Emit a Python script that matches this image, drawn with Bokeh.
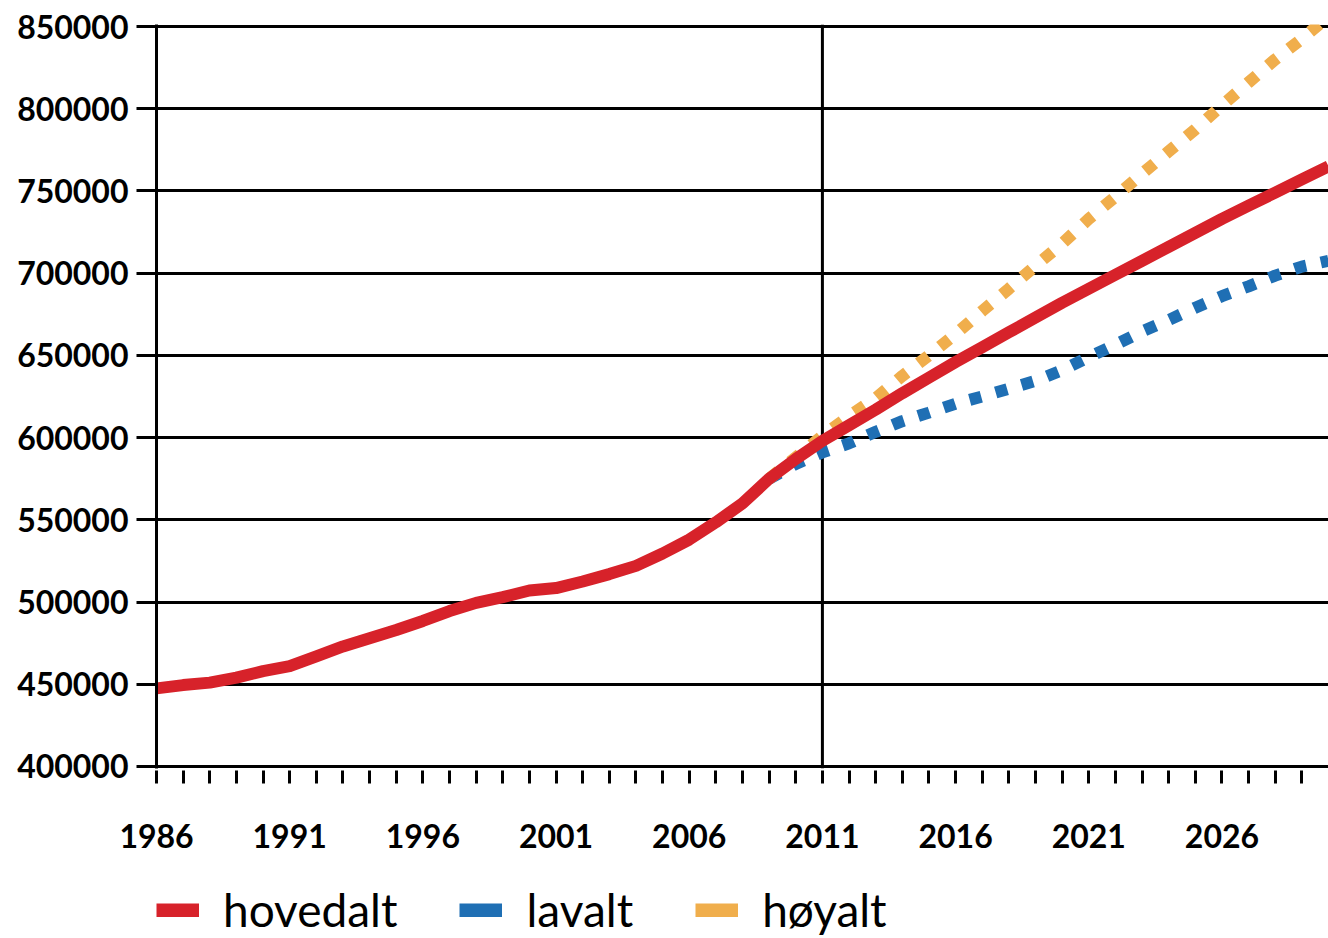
from bokeh.plotting import figure
from bokeh.models import FixedTicker, Span, Legend, LegendItem, Range1d
from bokeh.layouts import column
from bokeh.embed import file_html
from bokeh.resources import INLINE

# ---- data ----
years_main = list(range(1986, 2031))
hovedalt = [447500, 449500, 451000, 454000, 458000, 461000, 467000, 473000, 478000, 483000,
            488500, 494500, 499500, 503000, 507000, 508500, 512500, 517000, 522000, 529500,
            538000, 548500, 560000, 575000, 587000, 598000, 607500, 617000, 627000, 636500,
            646000, 655000, 664000, 673000, 682000, 690500, 699000, 707500, 716000, 724500,
            733000, 741000, 749000, 757000, 765000]

years_alt = list(range(2009, 2031))
lavalt = [575000, 584000, 591000, 596500, 603500, 610000, 615200, 620600, 625000, 629700,
          634500, 641000, 649000, 656500, 664500, 671500, 679000, 686000, 692000, 698500,
          704000, 707500]
hoyalt = [575000, 588000, 601000, 613000, 624000, 637500, 650000, 663000, 677000, 690500,
          704500, 718000, 733000, 746500, 760500, 774000, 787500, 802000, 816000, 830000,
          842500, 856000]

series_names = ["hovedalt", "lavalt", "høyalt"]
series_colors = ["#d7222a", "#1f6fb4", "#f0ae4c"]

y_ticks = [400000, 450000, 500000, 550000, 600000, 650000, 700000, 750000, 800000, 850000]
x_ticks = list(range(1986, 2030))
x_labelled = [1986, 1991, 1996, 2001, 2006, 2011, 2016, 2021, 2026]
divider_year = 2011

# ---- main figure ----
pad = 1217
p = figure(width=1328, height=870,
           x_range=Range1d(1986, 2030),
           y_range=Range1d(y_ticks[0] - pad, y_ticks[-1] + pad),
           output_backend="svg", toolbar_location=None,
           min_border_left=156, min_border_right=0, min_border_top=24, min_border_bottom=102)
p.outline_line_color = None
p.background_fill_color = "white"
p.border_fill_color = "white"

p.xgrid.visible = False
p.ygrid.ticker = FixedTicker(ticks=y_ticks)
p.ygrid.grid_line_color = "black"
p.ygrid.grid_line_width = 3

# y axis
ya = p.yaxis[0]
ya.ticker = FixedTicker(ticks=y_ticks)
ya.major_label_overrides = {v: str(v) for v in y_ticks}
ya.axis_line_width = 3
ya.axis_line_color = "black"
ya.major_tick_in = 0
ya.major_tick_out = 20
ya.major_tick_line_width = 3
ya.major_tick_line_color = "black"
ya.minor_tick_line_color = None
ya.major_label_standoff = 8
ya.major_label_text_font = "Lato"
ya.major_label_text_font_size = "32px"
ya.major_label_text_font_style = "bold"
ya.major_label_text_color = "black"

# x axis
xa = p.xaxis[0]
xa.ticker = FixedTicker(ticks=x_ticks)
xa.major_label_overrides = {v: (str(v) if v in x_labelled else "") for v in x_ticks}
xa.axis_line_color = None
xa.major_tick_in = -2
xa.major_tick_out = 15
xa.major_tick_line_width = 3
xa.major_tick_line_color = "black"
xa.minor_tick_line_color = None
xa.major_label_standoff = 40
xa.major_label_text_font = "Lato"
xa.major_label_text_font_size = "32px"
xa.major_label_text_font_style = "bold"
xa.major_label_text_color = "black"

p.add_layout(Span(location=divider_year, dimension="height", line_color="black",
                  line_width=3, level="underlay"))

# lines
p.line(years_alt, lavalt, line_color=series_colors[1], line_width=12,
       line_dash="12 15", line_cap="butt")
p.line(years_alt, hoyalt, line_color=series_colors[2], line_width=12,
       line_dash="12 15", line_cap="butt")
p.line(years_main, hovedalt, line_color=series_colors[0], line_width=12,
       line_cap="butt", line_join="round")

# ---- legend strip ----
lf = figure(width=1328, height=68, x_range=Range1d(0, 1), y_range=Range1d(0, 1),
            output_backend="svg", toolbar_location=None,
            x_axis_location=None, y_axis_location=None,
            min_border_left=156, min_border_right=0, min_border_top=0, min_border_bottom=0)
lf.outline_line_color = None
lf.grid.visible = False
lf.background_fill_color = "white"
lf.border_fill_color = "white"

items = []
for name, col in zip(series_names, series_colors):
    r = lf.line(x=[5, 6], y=[5, 6], line_color=col, line_width=14, line_cap="butt")
    items.append(LegendItem(label=name, renderers=[r]))
legend = Legend(items=items, orientation="horizontal", location=(0, 1),
                glyph_width=43, glyph_height=14, label_standoff=24, spacing=62,
                padding=0, margin=0, border_line_color=None, background_fill_alpha=0,
                label_text_font="Lato", label_text_font_size="46px",
                label_text_color="black")
lf.add_layout(legend, "center")

layout = column(p, lf, spacing=0)
open("out.html", "w").write(file_html(layout, INLINE))
